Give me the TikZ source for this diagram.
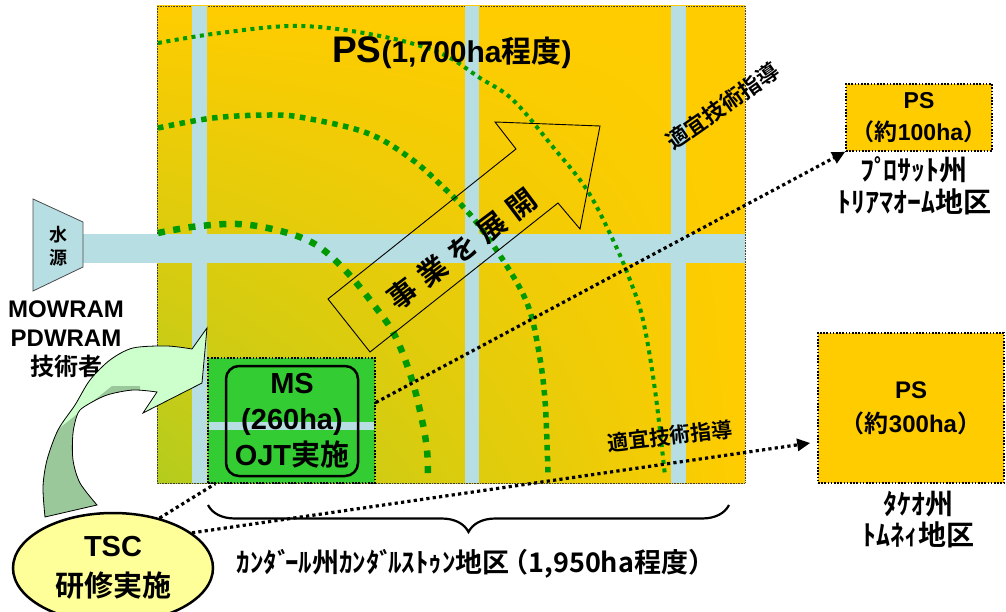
\documentclass[tikz,border=0pt]{standalone}
\usepackage{fontspec}
\setmainfont{Liberation Sans}
\newfontfamily\jp{Noto Sans CJK JP}[BoldFont={Noto Sans CJK JP Bold}]
\usepackage{graphicx}
\usetikzlibrary{arrows.meta,decorations.pathreplacing,shapes.geometric,shadings,calc}
\definecolor{canal}{RGB}{183,222,226}
\definecolor{orangeps}{RGB}{255,204,0}
\definecolor{fieldgreen}{RGB}{180,204,30}
\definecolor{msgreen}{RGB}{51,204,51}
\definecolor{arcgreen}{RGB}{0,153,0}
\definecolor{tscyellow}{RGB}{255,255,153}
\definecolor{arrlight}{RGB}{204,255,204}
\definecolor{arrdark}{RGB}{155,200,155}
\newcommand{\J}[1]{{\jp #1}}
\newcommand{\fs}[2]{\fontsize{#1}{#2}\selectfont}
\newcommand{\dk}{\kern-0.2em}
\tikzset{
  txt/.style={align=center, inner sep=0pt},
  dotbox/.style={draw=black, line width=1.6pt, dash pattern=on 1.6pt off 1.6pt, inner sep=0pt},
  conn/.style={draw=black, line width=3.2pt, dash pattern=on 3.2pt off 3.2pt},
  tiphead/.style={-{Triangle[length=13pt,width=12pt]}},
  arcO/.style={draw=arcgreen, line width=4pt, dash pattern=on 4pt off 4.5pt},
  arcM/.style={draw=arcgreen, line width=5.5pt, dash pattern=on 5.5pt off 5.5pt},
  arcI/.style={draw=arcgreen, line width=6.5pt, dash pattern=on 7pt off 8.5pt},
}
\begin{document}
\begin{tikzpicture}[x=1pt,y=-1pt]
\useasboundingbox (0,0) rectangle (1006,612);
\fill[white] (0,0) rectangle (1006,612);
% field
\shade[upper left=orangeps, upper right=orangeps, lower left=fieldgreen, lower right=orangeps] (157,6) rectangle (745,483);
\draw[black!75, line width=0.8pt, dash pattern=on 0.8pt off 0.8pt] (157,6) rectangle (745,483);
% canals
\fill[canal] (192,6.5) rectangle (207,482.5);
\fill[canal] (465,6.5) rectangle (479,482.5);
\fill[canal] (671,6.5) rectangle (686,482.5);
\fill[canal] (83,234) rectangle (745,263);
% water source
\draw[fill=canal, draw=black!70, line width=0.8pt] (33,199) -- (83,222) -- (83,267) -- (33,291) -- cycle;
\node[txt, font={\fs{18}{23}\bfseries\jp}] (src) at (58,246) {水\\源};
% MS box
\node[dotbox, fill=msgreen, minimum width=167pt, minimum height=125pt] (ms) at (291.5,420.5) {};
\fill[canal] (208.8,422) rectangle (374.2,430);
\node[draw=black, line width=2.5pt, rounded corners=13pt, minimum width=132pt, minimum height=110pt, txt, font={\fs{29}{36}\bfseries}] (msin) at (292,421) {MS\\(260ha)\\OJT\J{実施}};
% arcs
\draw[arcO] plot[smooth, tension=0.6] coordinates {(158,43) (220,33) (300,26) (380,36) (440,53) (480,78) (513,100) (553,147) (587,190) (613,240) (630,280) (643,320) (655,390) (665,476)};
\draw[arcM] plot[smooth, tension=0.6] coordinates {(158,128) (213,118) (270,115) (305,118) (367,133) (410,158) (443,187) (473,218) (503,260) (527,303) (538,347) (545,400) (548,476)};
\draw[arcI] plot[smooth, tension=0.6] coordinates {(158,233) (200,226) (250,225) (307,240) (343,268) (380,313) (397,340) (412,380) (422,420) (427,450) (428,476)};
% expansion arrow
\draw[black, line width=0.9pt] (328,299) -- (516,149) -- (495,122) -- (600,126) -- (580,229) -- (558,203) -- (370,352) -- cycle;
\node[rotate=37, inner sep=0pt, font={\fs{29}{29}\bfseries\jp}] (biz) at (462,249) {事\hspace{8pt}業\hspace{8pt}を\hspace{8pt}展\hspace{8pt}開};
% title
\node[anchor=west, inner sep=0pt, font=\bfseries] (ttl) at (332,53) {{\fs{37}{37}PS}{\fs{30}{30}(1,700ha\J{程度})}};
% guidance labels
\node[rotate=35, inner sep=0pt, font={\fs{22}{22}\bfseries\jp}] (gd1) at (723,106) {適宜技術指導};
\node[rotate=6.6, inner sep=0pt, font={\fs{21}{21}\bfseries\jp}] (gd2) at (670,436) {適宜技術指導};
% right boxes
\node[dotbox, fill=orangeps, minimum width=146pt, minimum height=67pt, txt, font={\fs{23}{32}\bfseries}] (ps1) at (919,117.5) {PS\\\J{（約}100ha\J{）}};
\node[txt, font={\fs{28}{32}\bfseries\jp}] (ps1l) at (914,186) {ﾌﾟ\dk ﾛｻｯﾄ州\\ﾄﾘｱﾏｵｰﾑ地区};
\node[dotbox, fill=orangeps, minimum width=186pt, minimum height=150pt, txt, font={\fs{24}{34}\bfseries}] (ps3) at (911,408) {PS\\\J{（約}300ha\J{）}};
\node[txt, font={\fs{28}{31}\bfseries\jp}] (ps3l) at (918,520) {ﾀｹｵ州\\ﾄﾑﾈｨ地区};
% left labels
\node[txt, font={\fs{24}{29}\bfseries}] (tech) at (66,339) {MOWRAM\\PDWRAM\\\J{技術者}};
% curved green arrow
\def\arrowpath{plot[smooth] coordinates {(45,517) (43,487) (47,460) (58,430) (75,405) (90,380) (110,360) (133,348) (167,346) (192,349)}
  -- (207,328) -- (202,383) -- (143,413) -- (157,392)
  -- plot[smooth] coordinates {(157,392) (133,390) (107,395) (87,405) (78,413) (73,433) (73,460) (80,483) (97,505)} -- cycle}
\fill[arrlight] \arrowpath;
\begin{scope}
  \clip \arrowpath;
  \fill[arrdark] (112,386) -- (20,460) -- (20,560) -- (140,560) -- (140,386) -- cycle;
\end{scope}
\draw[black, line width=0.8pt] \arrowpath;
% TSC
\node[ellipse, draw=black, line width=2.5pt, fill=tscyellow, minimum width=200pt, minimum height=110pt, txt, font={\fs{29}{40}\bfseries}] (tsc) at (113,568) {TSC\\\J{研修実施}};
% brace
\coordinate (bl) at (208,505);
\coordinate (br) at (729,505);
\draw[decorate, decoration={brace, mirror, amplitude=27pt}, line width=2.2pt] (bl) -- (br);
\node[inner sep=0pt, font={\fs{27}{27}\bfseries\jp}] (area) at (476,564) {ｶﾝﾀﾞ\dk ｰﾙ州ｶﾝﾀﾞ\dk ﾙｽﾄｩﾝ地区\kern-0.3em（1,950ha程度）};
% connectors
\draw[conn, tiphead] ([yshift=18pt]ms.east) -- (ps1.south west);
\draw[conn, tiphead] (tsc.24) -- ([xshift=-7pt,yshift=-35pt]ps3.west);
\draw[conn] (tsc.47) -- ([xshift=8pt]ms.south west);
\end{tikzpicture}
\end{document}
